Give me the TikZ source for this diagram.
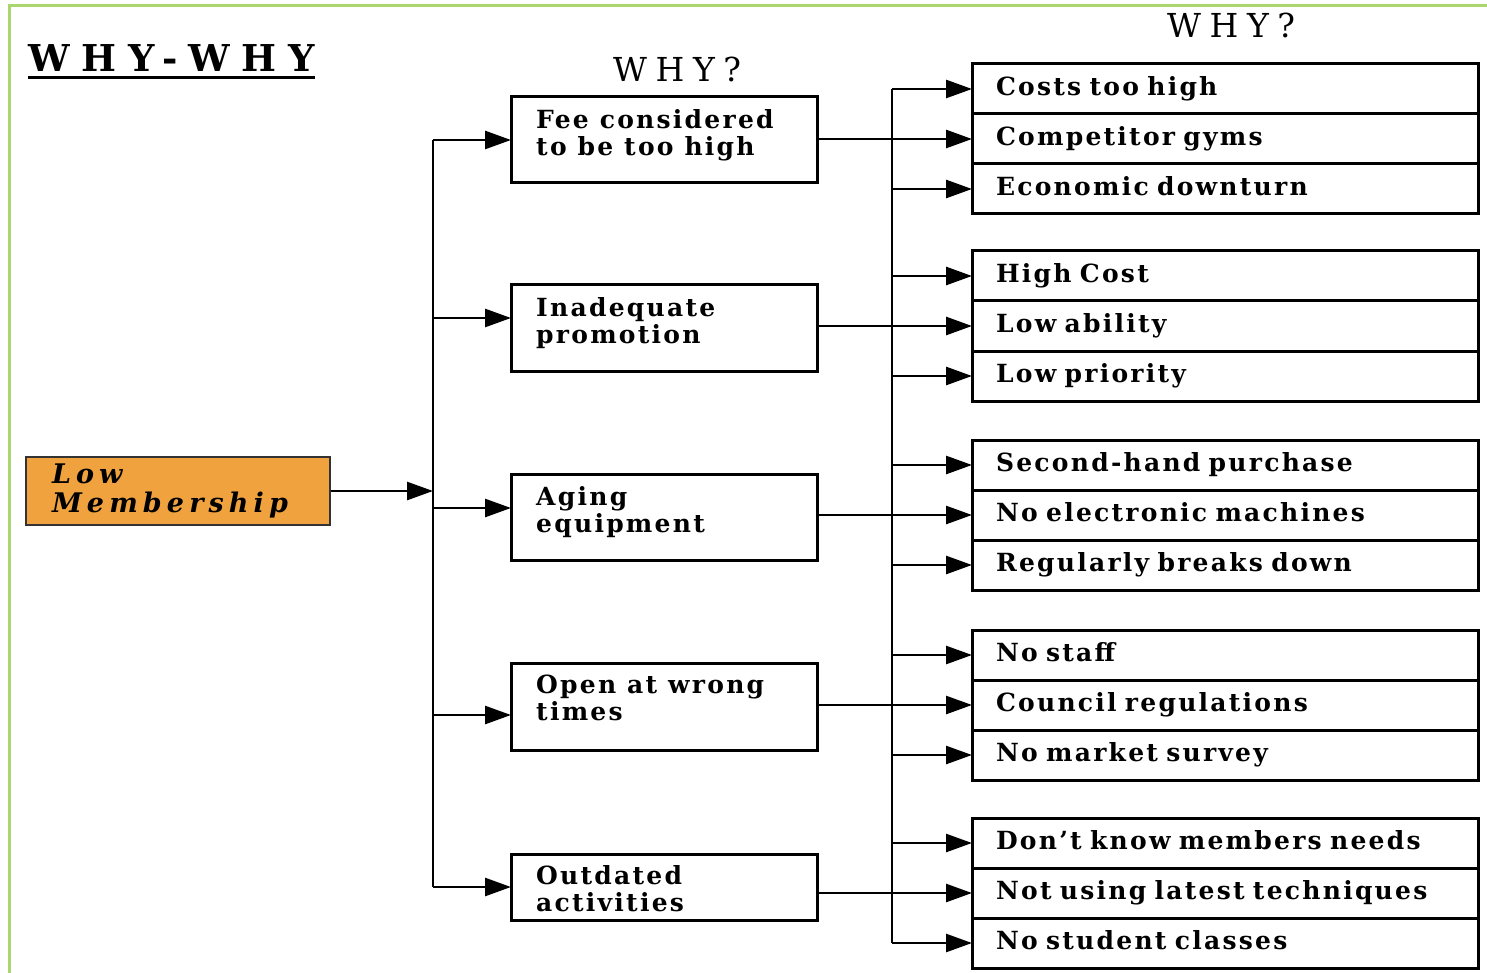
\documentclass[tikz,border=0pt]{standalone}
\usepackage{fontspec}
\setmainfont{DejaVu Serif}
\newfontfamily\boxfont[LetterSpace=9]{DejaVu Serif}
\newfontfamily\titlefont[LetterSpace=32]{DejaVu Serif}
\newfontfamily\whyfont[LetterSpace=26]{DejaVu Serif}
\newfontfamily\rootfont[LetterSpace=19]{DejaVu Serif}
\usetikzlibrary{arrows.meta, positioning}
\definecolor{rootorange}{RGB}{240, 162, 62}
\definecolor{framegreen}{RGB}{170, 214, 110}

\begin{document}
\begin{tikzpicture}[x=1pt, y=-1pt,
  link/.style={line width=2.7pt},
  arr/.style={link, -{Triangle[length=26pt, width=18pt]}},
  midbox/.style={draw, line width=3pt, minimum width=306pt, minimum height=86pt, outer sep=0pt, inner sep=0pt},
  midtext/.style={anchor=north west, inner sep=0pt, align=left, font=\boxfont\bfseries\fontsize{25pt}{27pt}\selectfont},
  rowbox/.style={draw, line width=3pt, minimum width=506pt, minimum height=50pt, text width=458pt, inner xsep=24pt, inner ysep=0pt, outer sep=0pt, align=left, text height=19pt, text depth=6pt, font=\boxfont\bfseries\fontsize{25pt}{27pt}\selectfont},
  why/.style={anchor=base west, inner sep=0pt, font=\whyfont\fontsize{33pt}{35pt}\selectfont}
]
  \useasboundingbox (0,0) rectangle (1487,973);
  % frame
  \draw[framegreen, line width=3pt] (9,973) -- (9,6) -- (1487,6);

  % headings
  \node[anchor=base west, inner sep=0pt, font=\titlefont\bfseries\fontsize{37pt}{40pt}\selectfont] (title) at (28,72) {WHY-WHY};
  \draw[line width=3pt] ([yshift=-6pt]title.base west) -- ([yshift=-6pt]title.base east);
  \node[why] (why1) at (613,82) {WHY?};
  \node[why] (why2) at (1167,38) {WHY?};

  % problem
  \node[draw=black!80, fill=rootorange, line width=2.4pt, minimum width=304pt, minimum height=68pt, text width=252pt, inner xsep=26pt, inner ysep=0pt, align=left, font=\rootfont\bfseries\itshape\fontsize{27pt}{29pt}\selectfont] (low) at (178,491) {Low\\Membership};

  % first why
  \node[midbox] (fee) at (664,140) {};
  \node[midtext] (feetxt) at ([shift={(25pt,-12pt)}]fee.north west) {Fee considered\\to be too high};
  \node[midbox] (promo) at (664,328) {};
  \node[midtext] (promotxt) at ([shift={(25pt,-12pt)}]promo.north west) {Inadequate\\promotion};
  \node[midbox] (aging) at (664,517) {};
  \node[midtext] (agingtxt) at ([shift={(25pt,-12pt)}]aging.north west) {Aging\\equipment};
  \node[midbox, minimum height=87pt] (hours) at (664,706.5) {};
  \node[midtext] (hourstxt) at ([shift={(25pt,-12pt)}]hours.north west) {Open at wrong\\times};
  \node[midbox, minimum height=66pt] (activ) at (664,887) {};
  \node[midtext] (activtxt) at ([shift={(25pt,-11pt)}]activ.north west) {Outdated\\activities};

  % second why
  \node[rowbox] (cost) at (1225,89) {Costs too high};
  \node[rowbox, below=0pt of cost] (gyms) {Competitor gyms};
  \node[rowbox, below=0pt of gyms] (econ) {Economic downturn};
  \node[rowbox] (hicost) at (1225,276) {High Cost};
  \node[rowbox, below=0pt of hicost] (lowab) {Low ability};
  \node[rowbox, below=0pt of lowab] (lowpri) {Low priority};
  \node[rowbox] (second) at (1225,465) {Second-hand purchase};
  \node[rowbox, below=0pt of second] (noelec) {No electronic machines};
  \node[rowbox, below=0pt of noelec] (breaks) {Regularly breaks down};
  \node[rowbox] (nostaff) at (1225,655) {No staff};
  \node[rowbox, below=0pt of nostaff] (council) {Council regulations};
  \node[rowbox, below=0pt of council] (nosurvey) {No market survey};
  \node[rowbox] (needs) at (1225,843) {Don’t know members needs};
  \node[rowbox, below=0pt of needs] (latest) {Not using latest techniques};
  \node[rowbox, below=0pt of latest] (nocls) {No student classes};

  % left bus
  \coordinate (lbus) at (433,491);
  \coordinate (promoin) at ([yshift=10pt]promo.west);
  \coordinate (agingin) at ([yshift=9pt]aging.west);
  \coordinate (hoursin) at ([yshift=-8.5pt]hours.west);
  \draw[arr] (low.east) -- (low.east -| lbus);
  \draw[link] (lbus |- fee.west) -- (lbus |- activ.west);
  \draw[arr] (lbus |- fee.west) -- (fee.west);
  \draw[arr] (lbus |- promoin) -- (promoin);
  \draw[arr] (lbus |- agingin) -- (agingin);
  \draw[arr] (lbus |- hoursin) -- (hoursin);
  \draw[arr] (lbus |- activ.west) -- (activ.west);

  % right bus
  \coordinate (rbus) at (892,491);
  \draw[link] (rbus |- cost.west) -- (rbus |- nocls.west);
  \draw[arr] (rbus |- cost.west) -- (cost.west);
  \draw[arr] (gyms.west -| fee.east) -- (gyms.west);
  \draw[arr] (rbus |- econ.west) -- (econ.west);
  \draw[arr] (rbus |- hicost.west) -- (hicost.west);
  \draw[arr] (lowab.west -| promo.east) -- (lowab.west);
  \draw[arr] (rbus |- lowpri.west) -- (lowpri.west);
  \draw[arr] (rbus |- second.west) -- (second.west);
  \draw[arr] (noelec.west -| aging.east) -- (noelec.west);
  \draw[arr] (rbus |- breaks.west) -- (breaks.west);
  \draw[arr] (rbus |- nostaff.west) -- (nostaff.west);
  \draw[arr] (council.west -| hours.east) -- (council.west);
  \draw[arr] (rbus |- nosurvey.west) -- (nosurvey.west);
  \draw[arr] (rbus |- needs.west) -- (needs.west);
  \draw[arr] (latest.west -| activ.east) -- (latest.west);
  \draw[arr] (rbus |- nocls.west) -- (nocls.west);
\end{tikzpicture}
\end{document}
